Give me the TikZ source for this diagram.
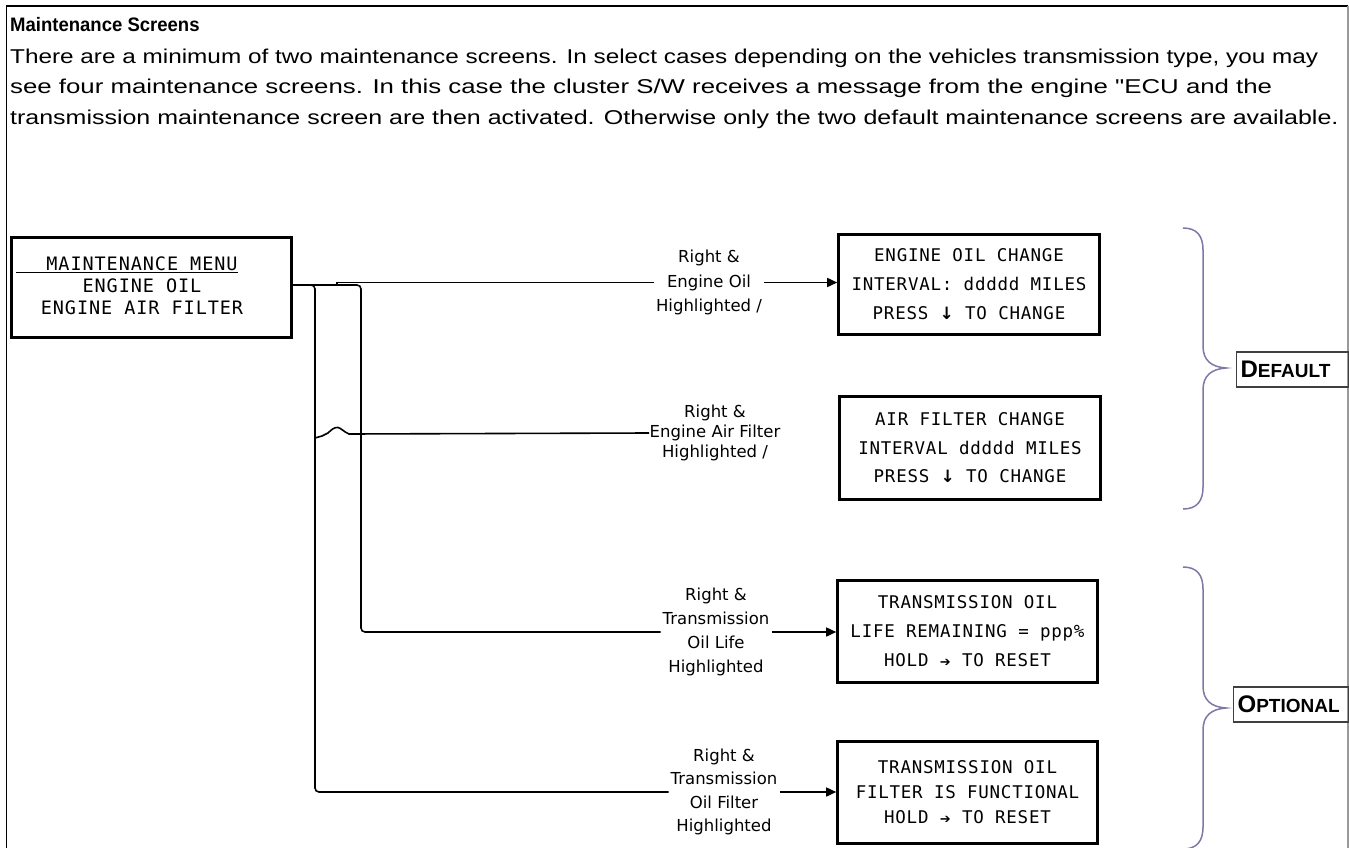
\documentclass[tikz,border=0pt]{standalone}
\usepackage{fontspec}
\setmainfont{Liberation Sans}
\newfontfamily\bodyfontA[FakeStretch=1.216]{Liberation Sans}
\newfontfamily\bodyfontB[FakeStretch=1.29]{Liberation Sans}
\newfontfamily\bodyfontC[FakeStretch=1.249]{Liberation Sans}
\newfontfamily\titlefont[FakeStretch=0.95]{Liberation Sans}
\newfontfamily\lblfont{DejaVu Sans}
\newfontfamily\scrfont[LetterSpace=4.3]{DejaVu Sans Mono}
\newfontfamily\menufont[LetterSpace=5]{DejaVu Sans Mono}
\newfontfamily\tagfont{Liberation Sans}
\newcommand\dnarrow{{\lblfont\bfseries\fontsize{17}{17}\selectfont ↓}}
\newcommand\rtarrow{{\lblfont\fontsize{13}{13}\selectfont ➔}}
\usetikzlibrary{arrows.meta}
\definecolor{bracecol}{RGB}{125,120,165}
\begin{document}
\begin{tikzpicture}[x=1pt,y=-1pt,
  conn/.style={line width=1.6pt, rounded corners=4pt},
  arr/.style={line width=1.6pt, -{Triangle[length=10pt,width=9pt]}},
  screen/.style={draw, line width=2.6pt, align=center, inner sep=0pt},
  scrtext/.style={font=\scrfont\fontsize{17.5}{29}\selectfont},
  lbl/.style={align=center, inner sep=2pt},
  tagbox/.style={draw=black!75, line width=1.2pt, anchor=west, minimum height=35pt, inner xsep=4pt, inner ysep=0pt, align=left},
  brace/.style={draw=bracecol, line width=1.5pt},
  bodytext/.style={anchor=base west, inner sep=0pt}
]
\useasboundingbox (0,0) rectangle (1349,848);
% frame
\draw[line width=1.5pt] (6.5,848) -- (6.5,6) -- (1348,6);
\draw[line width=1.5pt, black!40] (1348,6) -- (1348,848);

% heading and text
\node[anchor=base west, inner sep=0pt, font=\titlefont\bfseries\fontsize{19.5}{24}\selectfont] (title) at (10,32) {Maintenance Screens};
\node[bodytext, font=\bodyfontA\fontsize{20}{24}\selectfont] (b1) at (10,64) {There are a minimum of two maintenance screens. In select cases depending on the vehicles transmission type, you may};
\node[bodytext, font=\bodyfontB\fontsize{20}{24}\selectfont] (b2) at (10,94) {see four maintenance screens. In this case the cluster S/W receives a message from the engine "ECU and the};
\node[bodytext, font=\bodyfontC\fontsize{20}{24}\selectfont] (b3) at (10,124.5) {transmission maintenance screen are then activated. Otherwise only the two default maintenance screens are available.};

% menu
\node[screen, minimum width=280pt, minimum height=100pt] (menu) at (151.5,287.5) {};
\node[align=center, inner sep=0pt, font=\menufont\fontsize{18.5}{22}\selectfont] (menutxt) at (142,286) {MAINTENANCE MENU\\ENGINE OIL\\ENGINE AIR FILTER};
\draw[line width=1.2pt] ([xshift=6pt,yshift=-36pt]menu.north west) -- ++(222,0);

% screens
\node[screen, scrtext, minimum width=261pt, minimum height=100pt] (s1) at (969,284.5) {ENGINE OIL CHANGE\\INTERVAL: ddddd MILES\\PRESS \dnarrow{} TO CHANGE};
\node[screen, minimum width=261pt, minimum height=103pt, font=\scrfont\fontsize{17.5}{28.5}\selectfont] (s2) at (970,448) {AIR FILTER CHANGE\\INTERVAL ddddd MILES\\PRESS \dnarrow{} TO CHANGE};
\node[screen, scrtext, minimum width=260pt, minimum height=102pt] (s3) at (967.5,631.5) {TRANSMISSION OIL\\LIFE REMAINING = ppp\%\\HOLD \rtarrow{} TO RESET};
\node[screen, minimum width=260pt, minimum height=102pt, font=\scrfont\fontsize{17.5}{25}\selectfont] (s4) at (967.5,792.5) {TRANSMISSION OIL\\FILTER IS FUNCTIONAL\\HOLD \rtarrow{} TO RESET};

% labels
\node[lbl, font=\lblfont\fontsize{16.5}{24.5}\selectfont] (l1) at (709,282.5) {Right \&\\Engine Oil\\Highlighted /};
\node[lbl, inner xsep=0.5pt, font=\lblfont\fontsize{16.5}{20}\selectfont] (l2) at (715,433) {Right \&\\Engine Air Filter\\Highlighted /};
\node[lbl, font=\lblfont\fontsize{16.5}{24}\selectfont] (l3) at (716,632) {Right \&\\Transmission\\Oil Life\\Highlighted};
\node[lbl, font=\lblfont\fontsize{16.5}{23.5}\selectfont] (l4) at (724,792) {Right \&\\Transmission\\Oil Filter\\Highlighted};

% connectors
\coordinate (mo) at ([yshift=2.5pt]menu.east);
\draw[conn] (mo) -- (361,285) -- (361,632) -- (l3.west);
\draw[conn] (mo) -- (315,285) -- (315,792) -- (l4.west);
\draw[line width=1.6pt] (337,285) -- (337,282.5) -- (l1.west);
\draw[line width=1.6pt] (315,438) -- (322,436) -- (328,433) .. controls (332,429) and (335,427) .. (338,427.5) .. controls (341,428) and (344,432) .. (349,434) -- (l2.west);
\draw[arr] (l1.east) -- (l1.east -| s1.west);
\draw[arr] (l3.east) -- (l3.east -| s3.west);
\draw[arr] (l4.east) -- (l4.east -| s4.west);

% braces
\draw[brace] (1183,228) .. controls (1197,228) and (1203,236) .. (1203,250) -- (1203,346) .. controls (1203,360) and (1211,367) .. (1226,368) .. controls (1211,369) and (1203,376) .. (1203,390) -- (1203,487) .. controls (1203,501) and (1197,509) .. (1183,509);
\draw[brace] (1183,567) .. controls (1197,567) and (1203,575) .. (1203,589) -- (1203,686) .. controls (1203,700) and (1211,707) .. (1226,708) .. controls (1211,709) and (1203,716) .. (1203,730) -- (1203,827) .. controls (1203,841) and (1197,849) .. (1183,849);

% tags
\node[tagbox, text width=104pt] (deftag) at (1236,369.5) {\tagfont\bfseries{\fontsize{24}{24}\selectfont D}{\fontsize{19}{19}\selectfont EFAULT}};
\node[tagbox, text width=107pt] (opttag) at (1233,704.5) {\tagfont\bfseries{\fontsize{24}{24}\selectfont O}{\fontsize{19}{19}\selectfont PTIONAL}};
\end{tikzpicture}
\end{document}
